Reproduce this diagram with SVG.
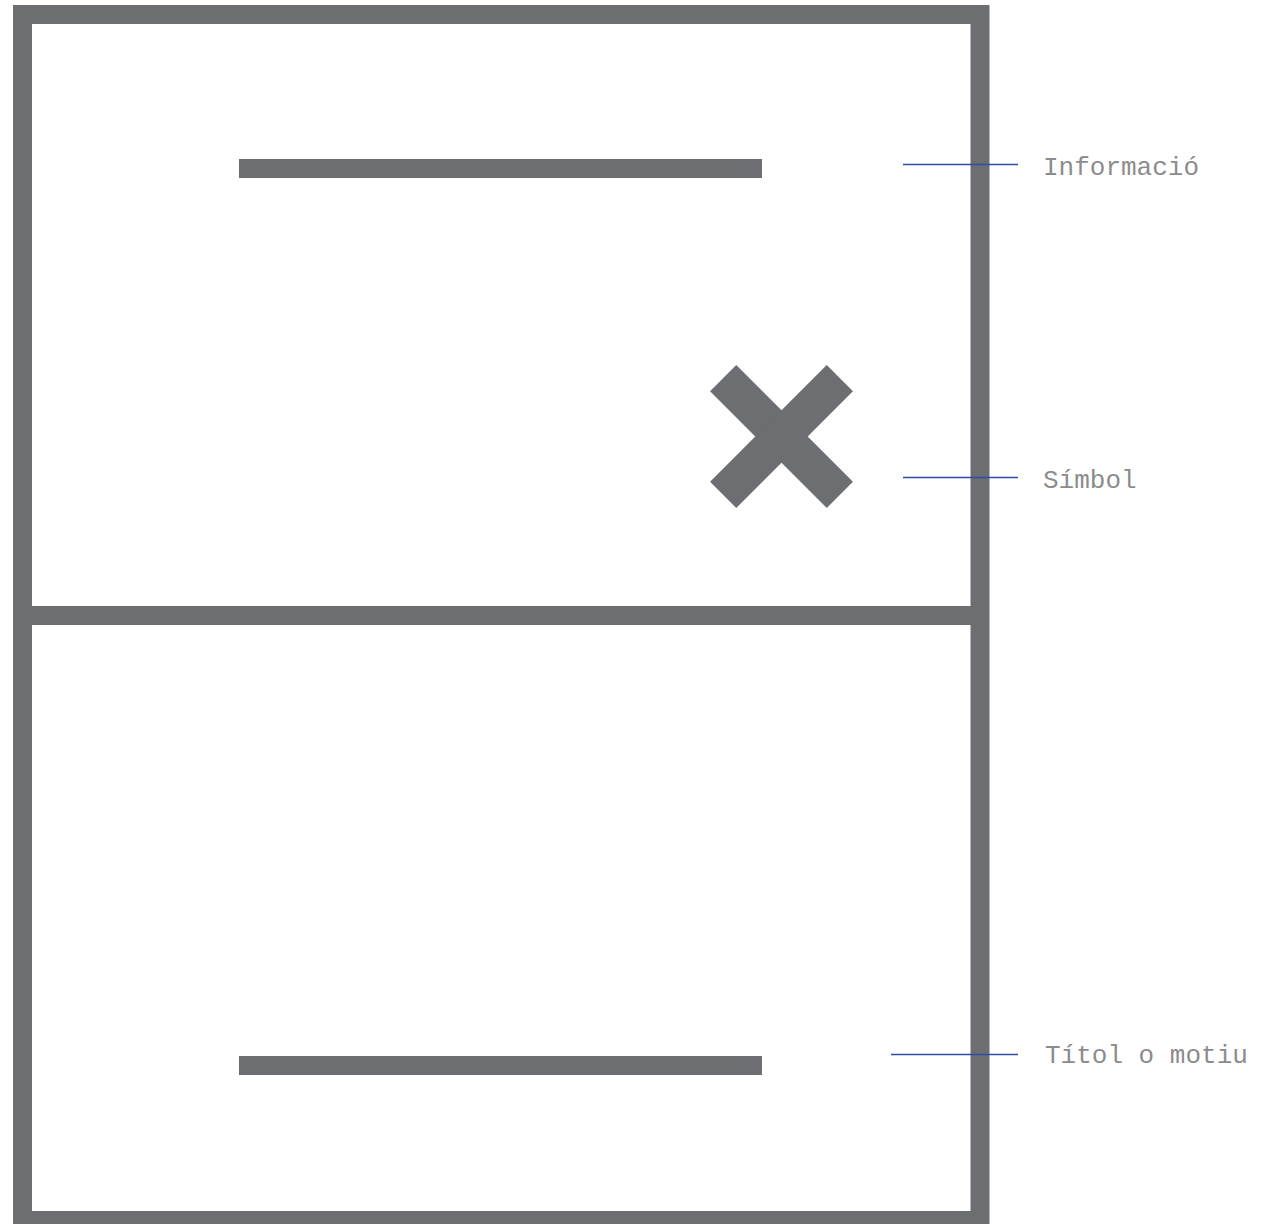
<svg xmlns="http://www.w3.org/2000/svg" width="1270" height="1224" viewBox="0 0 1270 1224">
<style>
.g{fill:#6d6e71}
.frame{fill:none;stroke:#6d6e71;stroke-width:19}
.lead{stroke:#2e4ea3;stroke-width:1.3;fill:none}
.lbl{font-family:"Liberation Mono","Courier New",monospace;font-size:26px;fill:#8c8c8c}
</style>
<rect width="1270" height="1224" fill="#ffffff"/>
<g id="frame">
<rect class="frame" x="22.5" y="14.5" width="957.5" height="1206"/>
<line x1="13" y1="615.5" x2="989" y2="615.5" stroke="#6d6e71" stroke-width="19"/>
</g>
<g id="info-bar"><rect class="g" x="239" y="159" width="523" height="19"/></g>
<g id="symbol"><g transform="translate(781.5,436.5)"><rect class="g" x="-82.5" y="-18.5" width="165" height="37" transform="rotate(45)"/><rect class="g" x="-82.5" y="-18.5" width="165" height="37" transform="rotate(-45)"/></g></g>
<g id="title-bar"><rect class="g" x="239" y="1056" width="523" height="19"/></g>
<g id="connectors">
<line class="lead" x1="903" y1="164.5" x2="1018" y2="164.5"/>
<line class="lead" x1="903" y1="477.5" x2="1018" y2="477.5"/>
<line class="lead" x1="891" y1="1054.5" x2="1018" y2="1054.5"/>
</g>
<g id="labels">
<text class="lbl" x="1043" y="175">Informació</text>
<text class="lbl" x="1043" y="488">Símbol</text>
<text class="lbl" x="1045" y="1063">Títol o motiu</text>
</g>
</svg>
